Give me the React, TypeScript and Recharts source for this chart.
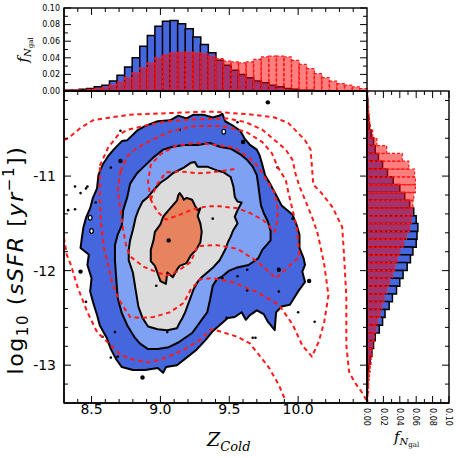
import React from 'react';
import { ComposedChart, BarChart, Bar, Scatter, XAxis, YAxis, ReferenceLine } from 'recharts';

type P = [number, number];

// ---------- axes ----------
const Z_DOMAIN: [number, number] = [8.3, 10.5];
const SSFR_DOMAIN: [number, number] = [-13.4, -10.1];
const F_DOMAIN: [number, number] = [0, 0.1];
const Z_MAJOR = [8.5, 9.0, 9.5, 10.0];
const Z_MINOR = [8.4, 8.6, 8.7, 8.8, 8.9, 9.1, 9.2, 9.3, 9.4, 9.6, 9.7, 9.8, 9.9, 10.1, 10.2, 10.3, 10.4];
const SSFR_MAJOR = [-13, -12, -11];
const SSFR_MINOR = [-10.2, -10.4, -10.6, -10.8, -11.2, -11.4, -11.6, -11.8, -12.2, -12.4, -12.6, -12.8, -13.2];
const F_MAJOR = [0, 0.02, 0.04, 0.06, 0.08, 0.1];
const F_MINOR = [0.01, 0.03, 0.05, 0.07, 0.09];

// ---------- histogram bins ----------
const Z_BINS = [8.300, 8.355, 8.410, 8.465, 8.520, 8.575, 8.630, 8.685, 8.740, 8.795, 8.850, 8.905, 8.960, 9.015, 9.070, 9.125, 9.180, 9.235, 9.290, 9.345, 9.400, 9.455, 9.510, 9.565, 9.620, 9.675, 9.730, 9.785, 9.840, 9.895, 9.950, 10.005, 10.060, 10.115, 10.170, 10.225, 10.280, 10.335, 10.390, 10.445];
const TOP_BLUE = [0.001, 0.001, 0.002, 0.003, 0.005, 0.007, 0.012, 0.019, 0.029, 0.040, 0.054, 0.067, 0.078, 0.084, 0.085, 0.081, 0.075, 0.065, 0.056, 0.046, 0.037, 0.031, 0.025, 0.020, 0.016, 0.012, 0.010, 0.007, 0.005, 0.003, 0.002, 0.001, 0.001, 0, 0, 0, 0, 0, 0, 0];
const TOP_RED = [0.001, 0.001, 0.001, 0.002, 0.003, 0.004, 0.007, 0.011, 0.016, 0.022, 0.028, 0.034, 0.040, 0.044, 0.046, 0.047, 0.047, 0.046, 0.045, 0.042, 0.039, 0.036, 0.035, 0.034, 0.035, 0.038, 0.041, 0.042, 0.042, 0.041, 0.037, 0.032, 0.027, 0.021, 0.016, 0.012, 0.009, 0.007, 0.005, 0.003];

const SSFR_BINS = [-10.1000, -10.1825, -10.2650, -10.3475, -10.4300, -10.5125, -10.5950, -10.6775, -10.7600, -10.8425, -10.9250, -11.0075, -11.0900, -11.1725, -11.2550, -11.3375, -11.4200, -11.5025, -11.5850, -11.6675, -11.7500, -11.8325, -11.9150, -11.9975, -12.0800, -12.1625, -12.2450, -12.3275, -12.4100, -12.4925, -12.5750, -12.6575, -12.7400, -12.8225, -12.9050, -12.9875, -13.0700, -13.1525, -13.2350, -13.3175];
const SIDE_BLUE = [0, 0.001, 0.001, 0.002, 0.003, 0.005, 0.008, 0.010, 0.014, 0.019, 0.025, 0.032, 0.040, 0.046, 0.052, 0.057, 0.060, 0.062, 0.061, 0.060, 0.056, 0.053, 0.049, 0.044, 0.040, 0.036, 0.031, 0.027, 0.022, 0.019, 0.015, 0.010, 0.008, 0.006, 0.004, 0.002, 0.001, 0.001, 0, 0];
const SIDE_RED = [0.001, 0.001, 0.002, 0.003, 0.004, 0.007, 0.012, 0.024, 0.043, 0.051, 0.058, 0.059, 0.059, 0.057, 0.056, 0.055, 0.054, 0.052, 0.048, 0.045, 0.040, 0.037, 0.034, 0.031, 0.027, 0.024, 0.021, 0.018, 0.016, 0.013, 0.011, 0.009, 0.007, 0.006, 0.005, 0.004, 0.003, 0.002, 0.002, 0.001];

// ---------- filled contours (Z, log sSFR) ----------
const BLUE_L1: P[] = [[8.89,-10.47],[8.98,-10.42],[9.07,-10.41],[9.13,-10.36],[9.19,-10.39],[9.24,-10.35],[9.31,-10.35],[9.38,-10.38],[9.43,-10.36],[9.45,-10.34],[9.47,-10.42],[9.52,-10.46],[9.58,-10.52],[9.61,-10.60],[9.65,-10.67],[9.70,-10.72],[9.72,-10.78],[9.74,-10.88],[9.76,-10.99],[9.80,-11.09],[9.84,-11.20],[9.88,-11.31],[9.96,-11.41],[9.99,-11.52],[10.01,-11.62],[10.01,-11.76],[10.04,-11.87],[10.05,-11.94],[10.03,-12.01],[10.05,-12.12],[10.00,-12.22],[9.94,-12.36],[9.88,-12.38],[9.84,-12.44],[9.83,-12.63],[9.78,-12.54],[9.75,-12.46],[9.70,-12.42],[9.65,-12.47],[9.62,-12.52],[9.59,-12.44],[9.54,-12.49],[9.49,-12.50],[9.45,-12.55],[9.38,-12.64],[9.33,-12.73],[9.26,-12.84],[9.19,-12.92],[9.12,-13.00],[9.04,-13.02],[9.02,-13.08],[8.98,-13.03],[8.89,-13.05],[8.80,-13.05],[8.72,-13.02],[8.68,-12.94],[8.64,-12.83],[8.61,-12.71],[8.56,-12.58],[8.54,-12.47],[8.51,-12.33],[8.49,-12.22],[8.50,-12.08],[8.47,-11.94],[8.48,-11.83],[8.42,-11.76],[8.43,-11.65],[8.44,-11.55],[8.46,-11.44],[8.49,-11.34],[8.51,-11.23],[8.54,-11.13],[8.55,-10.99],[8.58,-10.88],[8.62,-10.79],[8.66,-10.72],[8.72,-10.63],[8.76,-10.62],[8.83,-10.52]];
const BLUE_L2: P[] = [[8.83,-10.97],[8.88,-10.90],[8.95,-10.80],[9.02,-10.72],[9.09,-10.69],[9.17,-10.67],[9.27,-10.67],[9.36,-10.65],[9.43,-10.69],[9.51,-10.71],[9.58,-10.77],[9.63,-10.83],[9.67,-10.90],[9.70,-10.99],[9.71,-11.09],[9.72,-11.20],[9.73,-11.31],[9.75,-11.39],[9.78,-11.48],[9.80,-11.58],[9.80,-11.68],[9.74,-11.78],[9.71,-11.87],[9.64,-11.94],[9.55,-11.97],[9.50,-12.00],[9.45,-12.06],[9.41,-12.09],[9.38,-12.16],[9.36,-12.31],[9.34,-12.44],[9.31,-12.50],[9.27,-12.58],[9.23,-12.66],[9.18,-12.71],[9.13,-12.76],[9.06,-12.81],[8.98,-12.83],[8.91,-12.83],[8.85,-12.77],[8.81,-12.70],[8.76,-12.58],[8.72,-12.45],[8.69,-12.29],[8.68,-12.10],[8.67,-11.89],[8.67,-11.73],[8.69,-11.62],[8.72,-11.52],[8.73,-11.36],[8.76,-11.22],[8.78,-11.08]];
const BLUE_L3: P[] = [[9.22,-10.86],[9.25,-10.85],[9.27,-10.90],[9.34,-10.90],[9.41,-10.94],[9.46,-10.96],[9.51,-11.01],[9.53,-11.11],[9.54,-11.22],[9.56,-11.27],[9.59,-11.28],[9.56,-11.36],[9.54,-11.43],[9.56,-11.50],[9.53,-11.57],[9.51,-11.64],[9.49,-11.70],[9.47,-11.78],[9.43,-11.89],[9.38,-11.97],[9.34,-12.02],[9.30,-12.07],[9.27,-12.12],[9.24,-12.20],[9.22,-12.28],[9.20,-12.36],[9.18,-12.44],[9.16,-12.50],[9.14,-12.55],[9.12,-12.61],[9.05,-12.63],[8.98,-12.62],[8.91,-12.59],[8.87,-12.50],[8.84,-12.38],[8.82,-12.20],[8.80,-12.02],[8.77,-11.89],[8.77,-11.78],[8.78,-11.68],[8.80,-11.57],[8.82,-11.44],[8.84,-11.36],[8.87,-11.27],[8.91,-11.22],[8.95,-11.15],[9.00,-11.07],[9.05,-11.02],[9.09,-10.97],[9.17,-10.91]];
const BLUE_L4: P[] = [[9.13,-11.20],[9.14,-11.18],[9.16,-11.22],[9.17,-11.25],[9.19,-11.23],[9.23,-11.25],[9.25,-11.31],[9.27,-11.36],[9.29,-11.34],[9.27,-11.42],[9.29,-11.50],[9.30,-11.59],[9.29,-11.70],[9.26,-11.78],[9.22,-11.84],[9.19,-11.92],[9.14,-11.95],[9.12,-11.99],[9.09,-12.07],[9.05,-12.02],[9.04,-12.14],[9.00,-12.11],[8.98,-12.03],[8.96,-11.95],[8.93,-11.90],[8.93,-11.78],[8.95,-11.68],[8.96,-11.59],[9.00,-11.51],[9.02,-11.43],[9.06,-11.36],[9.09,-11.31],[9.12,-11.26]];

// ---------- red dashed contours ----------
const RED_C1_TOP: P[] = [[8.30,-10.62],[8.33,-10.60],[8.42,-10.49],[8.51,-10.41],[8.64,-10.38],[8.78,-10.35],[8.95,-10.34],[9.12,-10.33],[9.29,-10.32],[9.40,-10.32],[9.49,-10.33],[9.67,-10.35],[9.83,-10.38],[9.93,-10.44],[10.05,-10.62],[10.09,-10.72],[10.10,-10.90],[10.11,-11.09],[10.17,-11.18],[10.25,-11.33],[10.32,-11.54],[10.33,-11.76],[10.34,-12.01],[10.35,-12.29],[10.35,-12.79],[10.37,-13.07],[10.41,-13.18],[10.46,-13.28],[10.50,-13.38]];
const RED_C1_LOW: P[] = [[8.30,-11.65],[8.32,-11.83],[8.35,-11.94],[8.40,-12.18],[8.47,-12.44],[8.54,-12.65],[8.64,-12.79],[8.71,-12.89],[8.80,-12.94],[8.91,-12.97],[9.00,-12.94],[9.09,-12.89],[9.19,-12.82],[9.29,-12.73],[9.36,-12.63],[9.38,-12.62],[9.47,-12.66],[9.56,-12.70],[9.65,-12.77],[9.71,-12.88],[9.79,-13.03],[9.86,-13.21],[9.91,-13.38]];
const RED_C2: P[] = [[8.56,-10.89],[8.62,-10.70],[8.69,-10.57],[8.76,-10.51],[8.91,-10.46],[9.05,-10.42],[9.24,-10.40],[9.49,-10.39],[9.62,-10.43],[9.74,-10.51],[9.83,-10.62],[9.91,-10.72],[9.96,-10.83],[9.98,-10.97],[10.01,-11.11],[10.05,-11.25],[10.10,-11.43],[10.14,-11.60],[10.16,-11.73],[10.19,-11.94],[10.22,-12.26],[10.19,-12.54],[10.15,-12.75],[10.10,-12.91],[10.03,-12.79],[9.96,-12.57],[9.86,-12.36],[9.69,-12.22],[9.52,-12.12],[9.38,-12.08],[9.29,-12.09],[9.22,-12.20],[9.17,-12.34],[9.07,-12.44],[8.95,-12.49],[8.85,-12.50],[8.78,-12.49],[8.73,-12.38],[8.69,-12.28],[8.65,-12.13],[8.62,-11.94],[8.59,-11.76],[8.57,-11.52],[8.56,-11.25],[8.56,-11.09]];
const RED_C3: P[] = [[8.71,-10.95],[8.76,-10.79],[8.83,-10.70],[8.95,-10.61],[9.07,-10.53],[9.25,-10.47],[9.45,-10.47],[9.62,-10.53],[9.74,-10.64],[9.81,-10.76],[9.85,-10.90],[9.91,-11.04],[9.93,-11.18],[9.96,-11.36],[9.99,-11.54],[10.00,-11.71],[10.01,-11.85],[9.84,-12.08],[9.70,-11.90],[9.56,-11.77],[9.41,-11.73],[9.27,-11.74],[9.22,-11.91],[9.12,-12.01],[9.05,-12.05],[8.98,-12.02],[8.88,-11.96],[8.78,-11.85],[8.75,-11.73],[8.73,-11.57],[8.71,-11.36],[8.69,-11.15]];
const RED_C4: P[] = [[8.93,-11.25],[8.91,-11.06],[8.93,-10.88],[9.00,-10.77],[9.11,-10.68],[9.25,-10.65],[9.40,-10.67],[9.54,-10.70],[9.64,-10.80],[9.71,-10.90],[9.77,-11.04],[9.83,-11.18],[9.85,-11.33],[9.85,-11.46],[9.83,-11.59],[9.75,-11.47],[9.65,-11.39],[9.56,-11.34],[9.43,-11.32],[9.34,-11.32],[9.24,-11.35],[9.12,-11.42],[9.04,-11.46],[8.98,-11.38]];
const RED_C5: P[] = [[8.93,-11.25],[8.97,-11.10],[9.04,-10.96],[9.14,-10.95],[9.27,-10.97],[9.38,-10.96],[9.56,-10.92]];

// ---------- scattered points ----------
const DOTS_SMALL: P[] = [[9.14,-10.51],[8.71,-10.52],[9.56,-10.43],[8.64,-10.91],[8.46,-11.13],[8.42,-11.18],[8.38,-11.35],[8.53,-11.28],[9.85,-10.91],[9.96,-11.45],[9.86,-12.22],[9.63,-11.99],[9.56,-12.06],[9.63,-12.21],[10.00,-12.44],[10.12,-12.54],[9.67,-12.71],[9.48,-12.50],[9.45,-12.08],[8.46,-12.33],[8.67,-12.65],[8.64,-12.92],[9.05,-12.65],[8.58,-12.70],[8.97,-12.16],[9.69,-12.71],[9.38,-11.45],[8.33,-11.36],[8.38,-11.11],[8.47,-11.11],[8.69,-12.91]];
const DOTS_LARGE: P[] = [[9.78,-10.22],[9.60,-10.64],[8.71,-10.84],[9.86,-11.99],[10.08,-12.11],[8.42,-12.01],[8.87,-13.13],[9.06,-11.68]];
const HOLES: P[] = [[8.49,-11.44],[8.50,-11.58],[9.46,-10.53]];

// ---------- layout (px) ----------
const SIZE = 458;
const PLOT_L = 64;                 // left edge of main + top-hist plots
const MAIN_T = 91;                 // top edge of main plot
const MAIN_W = 303;                // main plot width
const MAIN_H = 312;                // main plot height
const TOP_H = 83;                  // top histogram plot height
const SIDE_W = 82;                 // side histogram plot width
const PLOT_R = PLOT_L + MAIN_W;    // 367
const TOP_T = MAIN_T - TOP_H;      // 8
const MARGIN_R = SIZE - PLOT_R;    // 91
const X_AXIS_H = SIZE - MAIN_T - MAIN_H; // 55
const SIDE_DIV_L = PLOT_R - 9;

// ---------- styles ----------
const C_DARK = '#4566DC';
const C_LIGHT = '#7EA1F4';
const C_GRAY = '#DCDCDC';
const C_CORE = '#E8835F';
const C_RED = '#FF1A1A';
const FONT = "'DejaVu Sans', sans-serif";
const SERIF = "'DejaVu Serif', serif";
const FW = 1.4;
const FRAME = { stroke: '#000', strokeWidth: FW };
const MAJ = 7;
const MIN = 4;

const toPts = (a: P[]) => a.map(([x, y]) => ({ x, y }));
const NoShape = () => <g />;
const near = (a: number, b: number) => Math.abs(a - b) < 1e-6;
const isIn = (v: number, list: number[]) => list.some((m) => near(m, v));

const pathOf = (pts: { x: number; y: number }[], closed: boolean) =>
  pts.map((q, i) => `${i ? 'L' : 'M'}${q.x.toFixed(2)},${q.y.toFixed(2)}`).join(' ') + (closed ? ' Z' : '');

const polygon = (fill: string) => (p: any) => {
  const pts = p.points || [];
  if (!pts.length) return <g />;
  return <path d={pathOf(pts, true)} fill={fill} stroke="#000" strokeWidth={2} strokeLinejoin="round" />;
};
const dashed = (closed: boolean) => (p: any) => {
  const pts = p.points || [];
  if (!pts.length) return <g />;
  return <path d={pathOf(pts, closed)} fill="none" stroke={C_RED} strokeWidth={2} strokeDasharray="4.5 3.5" strokeLinejoin="round" />;
};
const smallDot = (p: any) => <circle cx={p.cx} cy={p.cy} r={1.3} fill="#000" />;
const largeDot = (p: any) => <circle cx={p.cx} cy={p.cy} r={2.2} fill="#000" />;
const holeDot = (p: any) => <ellipse cx={p.cx} cy={p.cy} rx={1.8} ry={2.4} fill="#fff" stroke="#000" strokeWidth={1.2} />;

// Z axis ticks: main bottom / main top / top-hist top (all inward), labels for majors
const ZTick = (p: any) => {
  const x = p.x, y = p.y, v = Number(p.payload.value);
  const major = isIn(v, Z_MAJOR);
  const L = major ? MAJ : MIN;
  const yTop = y - MAIN_H;
  const yHist = yTop - TOP_H;
  return (
    <g>
      <line x1={x} x2={x} y1={y} y2={y - L} stroke="#000" />
      <line x1={x} x2={x} y1={yTop} y2={yTop + L} stroke="#000" />
      <line x1={x} x2={x} y1={yHist} y2={yHist + L} stroke="#000" />
      {major && (
        <text x={x} y={y + 1} dy="0.71em" textAnchor="middle" fontSize={14} fontFamily={FONT} fill="#000">{v.toFixed(1)}</text>
      )}
    </g>
  );
};
// sSFR axis ticks: main left / main right / side-hist right, labels for majors
const STick = (p: any) => {
  const x = p.x, y = p.y, v = Number(p.payload.value);
  const major = isIn(v, SSFR_MAJOR);
  const L = major ? MAJ : MIN;
  const xR = x + MAIN_W;
  const xS = xR + SIDE_W;
  return (
    <g>
      <line x1={x} x2={x + L} y1={y} y2={y} stroke="#000" />
      <line x1={xR} x2={xR - L} y1={y} y2={y} stroke="#000" />
      <line x1={xS} x2={xS - L} y1={y} y2={y} stroke="#000" />
      {major && (
        <text x={x - 8} y={y} dy="0.355em" textAnchor="end" fontSize={14} fontFamily={FONT} fill="#000">{String(v)}</text>
      )}
    </g>
  );
};
// top histogram value ticks (left / right)
const FTickTop = (p: any) => {
  const x = p.x, y = p.y, v = Number(p.payload.value);
  const major = isIn(v, F_MAJOR);
  const L = major ? MAJ : MIN;
  const xR = x + MAIN_W;
  return (
    <g>
      <line x1={x} x2={x + L} y1={y} y2={y} stroke="#000" strokeWidth={1} />
      <line x1={xR} x2={xR - L} y1={y} y2={y} stroke="#000" strokeWidth={1} />
      {major && (
        <text x={x - 4} y={y} dy="0.355em" textAnchor="end" fontSize={8} fontFamily={FONT} fill="#000">{v.toFixed(2)}</text>
      )}
    </g>
  );
};
// side histogram value ticks (bottom / top), rotated labels
const FTickSide = (p: any) => {
  const x = p.x, y = p.y, v = Number(p.payload.value);
  const major = isIn(v, F_MAJOR);
  const L = major ? MAJ : MIN;
  const yTop = y - MAIN_H;
  return (
    <g>
      <line x1={x} x2={x} y1={y} y2={y - L} stroke="#000" strokeWidth={1} />
      <line x1={x} x2={x} y1={yTop} y2={yTop + L} stroke="#000" strokeWidth={1} />
      {major && (
        <text transform={`translate(${x},${y + 5}) rotate(90)`} textAnchor="start" dy="0.35em" fontSize={8} fontFamily={FONT} fill="#000">{v.toFixed(2)}</text>
      )}
    </g>
  );
};

const topTable = Z_BINS.map((z, i) => ({ z, blue: TOP_BLUE[i], red: TOP_RED[i] }));
const sideTable = SSFR_BINS.map((s, i) => ({ s, blue: SIDE_BLUE[i], red: SIDE_RED[i] }));

export default function App() {
  return (
    <div style={{ position: 'absolute', left: 0, top: 0, width: SIZE, height: SIZE, background: '#fff' }}>
      {/* main joint plot */}
      <div style={{ position: 'absolute', left: 0, top: 0 }}>
        <ComposedChart width={SIZE} height={SIZE} margin={{ top: MAIN_T, right: MARGIN_R, bottom: 0, left: 0 }}>
          <XAxis xAxisId="x" dataKey="x" type="number" domain={Z_DOMAIN} allowDataOverflow
            ticks={[...Z_MAJOR, ...Z_MINOR]} interval={0}
            height={X_AXIS_H} tickLine={false} tickSize={0} tickMargin={0} axisLine={FRAME} tick={ZTick} />
          <YAxis yAxisId="y" dataKey="y" type="number" domain={SSFR_DOMAIN} allowDataOverflow
            ticks={[...SSFR_MAJOR, ...SSFR_MINOR]} interval={0}
            width={PLOT_L} tickLine={false} tickSize={0} tickMargin={0} axisLine={FRAME} tick={STick} />
          <Scatter data={toPts(BLUE_L1)} xAxisId="x" yAxisId="y" line={polygon(C_DARK)} lineType="joint" shape={NoShape} isAnimationActive={false} />
          <Scatter data={toPts(BLUE_L2)} xAxisId="x" yAxisId="y" line={polygon(C_LIGHT)} lineType="joint" shape={NoShape} isAnimationActive={false} />
          <Scatter data={toPts(BLUE_L3)} xAxisId="x" yAxisId="y" line={polygon(C_GRAY)} lineType="joint" shape={NoShape} isAnimationActive={false} />
          <Scatter data={toPts(BLUE_L4)} xAxisId="x" yAxisId="y" line={polygon(C_CORE)} lineType="joint" shape={NoShape} isAnimationActive={false} />
          <Scatter data={toPts(HOLES)} xAxisId="x" yAxisId="y" shape={holeDot} isAnimationActive={false} />
          <Scatter data={toPts(DOTS_SMALL)} xAxisId="x" yAxisId="y" shape={smallDot} isAnimationActive={false} />
          <Scatter data={toPts(DOTS_LARGE)} xAxisId="x" yAxisId="y" shape={largeDot} isAnimationActive={false} />
          <Scatter data={toPts(RED_C1_TOP)} xAxisId="x" yAxisId="y" line={dashed(false)} lineType="joint" shape={NoShape} isAnimationActive={false} />
          <Scatter data={toPts(RED_C1_LOW)} xAxisId="x" yAxisId="y" line={dashed(false)} lineType="joint" shape={NoShape} isAnimationActive={false} />
          <Scatter data={toPts(RED_C2)} xAxisId="x" yAxisId="y" line={dashed(true)} lineType="joint" shape={NoShape} isAnimationActive={false} />
          <Scatter data={toPts(RED_C3)} xAxisId="x" yAxisId="y" line={dashed(true)} lineType="joint" shape={NoShape} isAnimationActive={false} />
          <Scatter data={toPts(RED_C4)} xAxisId="x" yAxisId="y" line={dashed(true)} lineType="joint" shape={NoShape} isAnimationActive={false} />
          <Scatter data={toPts(RED_C5)} xAxisId="x" yAxisId="y" line={dashed(false)} lineType="joint" shape={NoShape} isAnimationActive={false} />
          <ReferenceLine xAxisId="x" yAxisId="y" y={SSFR_DOMAIN[1]} stroke="#000" strokeWidth={FW} />
          <ReferenceLine xAxisId="x" yAxisId="y" x={Z_DOMAIN[1]} stroke="#000" strokeWidth={FW} />
        </ComposedChart>
      </div>

      {/* top histogram */}
      <div style={{ position: 'absolute', left: 0, top: 0 }}>
        <BarChart width={SIZE} height={MAIN_T + 9} data={topTable} margin={{ top: TOP_T, right: MARGIN_R, bottom: 9, left: 0 }} barCategoryGap={0} barGap={0}>
          <XAxis xAxisId="cb" dataKey="z" type="category" hide />
          <XAxis xAxisId="cr" dataKey="z" type="category" hide />
          <YAxis yAxisId="v" type="number" domain={F_DOMAIN} ticks={[...F_MAJOR, ...F_MINOR]} interval={0} width={PLOT_L}
            tickLine={false} tickSize={0} tickMargin={0} axisLine={FRAME} tick={FTickTop} />
          <Bar dataKey="blue" xAxisId="cb" yAxisId="v" fill={C_DARK} stroke="#000" strokeWidth={1.5} isAnimationActive={false} />
          <Bar dataKey="red" xAxisId="cr" yAxisId="v" fill="#FF0000" fillOpacity={0.5} stroke={C_RED} strokeWidth={1.2} strokeDasharray="3 2" isAnimationActive={false} />
        </BarChart>
      </div>

      {/* right histogram */}
      <div style={{ position: 'absolute', left: SIDE_DIV_L, top: 0 }}>
        <BarChart width={SIZE - SIDE_DIV_L} height={SIZE} layout="vertical" data={sideTable}
          margin={{ top: MAIN_T, right: SIZE - SIDE_DIV_L - 9 - SIDE_W, bottom: 0, left: 9 }} barCategoryGap={0} barGap={0}>
          <YAxis yAxisId="cb" dataKey="s" type="category" hide />
          <YAxis yAxisId="cr" dataKey="s" type="category" hide />
          <XAxis xAxisId="v" type="number" domain={F_DOMAIN} ticks={[...F_MAJOR, ...F_MINOR]} interval={0} height={X_AXIS_H}
            tickLine={false} tickSize={0} tickMargin={0} axisLine={FRAME} tick={FTickSide} />
          <Bar dataKey="blue" yAxisId="cb" xAxisId="v" fill={C_DARK} stroke="#000" strokeWidth={1.5} isAnimationActive={false} />
          <Bar dataKey="red" yAxisId="cr" xAxisId="v" fill="#FF0000" fillOpacity={0.5} stroke={C_RED} strokeWidth={1.2} strokeDasharray="3 2" isAnimationActive={false} />
        </BarChart>
      </div>

      {/* panel frames + axis titles */}
      <svg width={SIZE} height={SIZE} style={{ position: 'absolute', left: 0, top: 0, pointerEvents: 'none' }}>
        <rect x={PLOT_L} y={TOP_T} width={MAIN_W} height={TOP_H} fill="none" stroke="#000" strokeWidth={FW} />
        <rect x={PLOT_R} y={MAIN_T} width={SIDE_W} height={MAIN_H} fill="none" stroke="#000" strokeWidth={FW} />
        <rect x={PLOT_L} y={MAIN_T} width={MAIN_W} height={MAIN_H} fill="none" stroke="#000" strokeWidth={FW} />
        <text transform="translate(23,260) rotate(-90)" textAnchor="middle" fontFamily={FONT} fontSize={22} letterSpacing={1.6} fill="#000">
          log<tspan fontSize={15} dy={5}>10</tspan><tspan dy={-5}> (</tspan><tspan fontStyle="italic">sSFR</tspan><tspan> [</tspan><tspan fontStyle="italic">yr</tspan><tspan fontSize={15} dy={-9}>−1</tspan><tspan dy={9}>])</tspan>
        </text>
        <text x={207} y={446} fontFamily={SERIF} fontStyle="italic" fontSize={19} fill="#000">
          Z<tspan fontSize={13} dy={5}>Cold</tspan>
        </text>
        <text transform="translate(28,50) rotate(-90)" textAnchor="middle" fontFamily={SERIF} fontStyle="italic" fontSize={15} fill="#000">
          f<tspan fontSize={10} dy={3}>N</tspan><tspan fontSize={7} fontStyle="normal" dy={2}>gal</tspan>
        </text>
        <text x={394} y={442} fontFamily={SERIF} fontStyle="italic" fontSize={15} fill="#000">
          f<tspan fontSize={10} dy={3}>N</tspan><tspan fontSize={7} fontStyle="normal" dy={2}>gal</tspan>
        </text>
      </svg>
    </div>
  );
}
